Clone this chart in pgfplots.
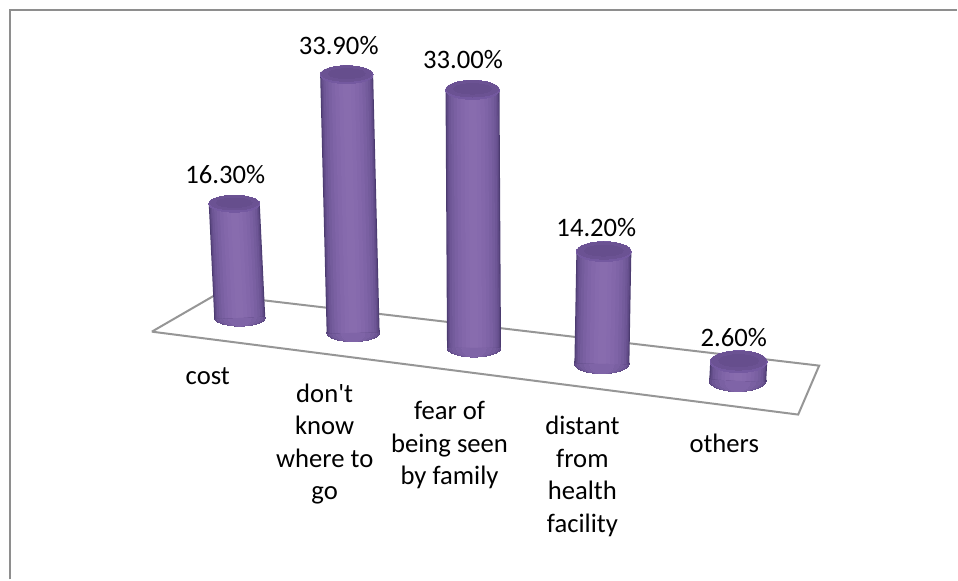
\documentclass[border=0pt]{standalone}
\usepackage{pgfplots}
\pgfplotsset{compat=1.18}
\usepackage{fontspec}
\newfontfamily\carl{Carlito}

% Shades of the cylinder wall, from the edge inwards
\definecolor{w0}{HTML}{4A3A6E}
\definecolor{w1}{HTML}{5A4680}
\definecolor{w2}{HTML}{654F8C}
\definecolor{w3}{HTML}{6E5696}
\definecolor{w4}{HTML}{745C9C}
\definecolor{w5}{HTML}{7A60A2}
\definecolor{w6}{HTML}{7F64A7}
\definecolor{w7}{HTML}{8367AA}
\definecolor{w8}{HTML}{866AAD}
\definecolor{w9}{HTML}{886CAE}
\definecolor{capRim}{HTML}{7459A0}
\definecolor{capMid}{HTML}{6B5293}
\definecolor{capTop}{HTML}{664E8D}
\definecolor{floorLine}{HTML}{969696}
\definecolor{frameLine}{HTML}{8E8E8E}

\tikzset{lbl/.style={font=\carl\fontsize{20}{24}\selectfont, text=black, inner sep=0pt, anchor=base}}

% Elliptic disc at a point given by value and floor position:
% #1 x, #2 y floor, #3 value, #4 px per unit, #5 radius x, #6 radius y, #7 shade, #8 y shift
\newcommand\disc[8]{%
  \pgfmathsetmacro\discr{#5*0.75}%
  \pgfmathsetmacro\discy{#6/#5}%
  \edef\dodisc{\noexpand\addplot[only marks, mark=*, mark size=\discr pt,
      mark options={fill=#7, draw=#7, line width=0pt, yscale=\discy}]
    table[row sep=\noexpand\\, x=px, y expr=\noexpand\thisrow{py}-\noexpand\thisrow{v}*#4+#8]
    {px py v\noexpand\\ #1 #2 #3\noexpand\\};}%
  \dodisc
}

% One band of the wall: #1 fraction of the width, #2 shade, #3 x foot, #4 y foot, #5 x top, #6 value, #7 px per unit, #8 radius x
\newcommand\band[8]{%
  \pgfmathsetmacro\bandw{2*#1*#8*0.75}%
  \edef\doband{\noexpand\addplot[draw=#2, line width=\bandw pt]
    table[row sep=\noexpand\\, x=px, y expr=\noexpand\thisrow{py}-\noexpand\thisrow{v}*#7]
    {px py v\noexpand\\ #3 #4 0\noexpand\\ #5 #4 #6\noexpand\\};}%
  \doband
}

% Rounded foot band: same fraction and shade as the wall above it
\newcommand\foot[6]{%
  \pgfmathsetmacro\footr{#1*#5}%
  \disc{#3}{#4}{0}{0}{\footr}{#6}{#2}{0}%
}

% Cylinder standing on the floor: #1 value, #2 x foot, #3 y foot, #4 x top, #5 px per unit, #6 radius x, #7 radius y
\newcommand\cylinder[7]{%
  \foot{1.00}{w1}{#2}{#3}{#6}{#7}
  \foot{0.97}{w2}{#2}{#3}{#6}{#7}
  \foot{0.90}{w3}{#2}{#3}{#6}{#7}
  \foot{0.80}{w4}{#2}{#3}{#6}{#7}
  \foot{0.65}{w5}{#2}{#3}{#6}{#7}
  \foot{0.45}{w6}{#2}{#3}{#6}{#7}
  \band{1.00}{w0}{#2}{#3}{#4}{#1}{#5}{#6}
  \band{0.97}{w1}{#2}{#3}{#4}{#1}{#5}{#6}
  \band{0.93}{w2}{#2}{#3}{#4}{#1}{#5}{#6}
  \band{0.88}{w3}{#2}{#3}{#4}{#1}{#5}{#6}
  \band{0.80}{w4}{#2}{#3}{#4}{#1}{#5}{#6}
  \band{0.70}{w5}{#2}{#3}{#4}{#1}{#5}{#6}
  \band{0.58}{w6}{#2}{#3}{#4}{#1}{#5}{#6}
  \band{0.45}{w7}{#2}{#3}{#4}{#1}{#5}{#6}
  \band{0.30}{w8}{#2}{#3}{#4}{#1}{#5}{#6}
  \band{0.15}{w9}{#2}{#3}{#4}{#1}{#5}{#6}
  \disc{#4}{#3}{#1}{#5}{#6}{#7}{capRim}{0}
  \pgfmathsetmacro\capa{#6*0.96}%
  \pgfmathsetmacro\capb{#7*0.86}%
  \disc{#4}{#3}{#1}{#5}{\capa}{\capb}{capMid}{-1}
  \pgfmathsetmacro\capc{#6*0.7}%
  \pgfmathsetmacro\capd{#7*0.55}%
  \disc{#4}{#3}{#1}{#5}{\capc}{\capd}{capTop}{-1}
}

\begin{document}
\begin{tikzpicture}
\begin{axis}[
  hide axis, x=0.75pt, y=0.75pt, xmin=0, xmax=958, ymin=0, ymax=580,
  y dir=reverse, clip=false, clip marker paths=true, scale only axis,
]
% chart frame: left and top rules only
\addplot[draw=frameLine, line width=1.5pt] coordinates {(10.5,580) (10.5,10) (958,10)};
\addplot[draw=none] coordinates {(0,0) (958,580)};

% floor of the chart
\addplot[draw=floorLine, line width=1.5pt] coordinates {(152,332) (216,295) (820,366) (799,415) (152,332)};

% value, x foot, y foot, x top, px per unit, radius x, radius y
\cylinder{16.3}{240}{318}{234.5}{7.0}{25.5}{8.5}
\cylinder{33.9}{353.5}{333}{347}{7.62}{26.5}{9}
\cylinder{33.0}{474.5}{348}{473}{7.82}{27}{9.5}
\cylinder{14.2}{602.5}{364}{604.5}{7.90}{27.5}{10}
\cylinder{2.6}{738.5}{381}{739.5}{7.30}{28.5}{11}

% value labels
\node[lbl] at (axis cs:225.5,184) {16.30\%};
\node[lbl] at (axis cs:339,55) {33.90\%};
\node[lbl] at (axis cs:463.5,69) {33.00\%};
\node[lbl] at (axis cs:597,237) {14.20\%};
\node[lbl] at (axis cs:734.5,347) {2.60\%};

% category labels, line by line
\node[lbl] at (axis cs:208,385) {cost};
\node[lbl] at (axis cs:325,403) {don't};
\node[lbl] at (axis cs:325,435) {know};
\node[lbl] at (axis cs:325,468) {where to};
\node[lbl] at (axis cs:325,500) {go};
\node[lbl] at (axis cs:450,420) {fear of};
\node[lbl] at (axis cs:450,453) {being seen};
\node[lbl] at (axis cs:450,485) {by family};
\node[lbl] at (axis cs:583,435) {distant};
\node[lbl] at (axis cs:583,468) {from};
\node[lbl] at (axis cs:583,500) {health};
\node[lbl] at (axis cs:583,533) {facility};
\node[lbl] at (axis cs:725,453) {others};
\end{axis}
\end{tikzpicture}
\end{document}
